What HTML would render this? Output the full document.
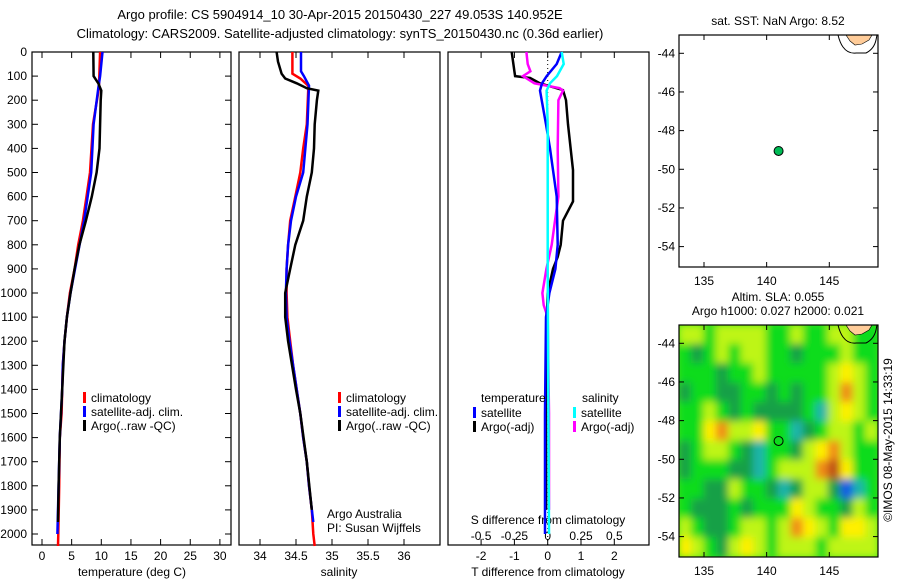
<!DOCTYPE html>
<html><head><meta charset="utf-8"><style>
html,body{margin:0;padding:0;background:#fff;}
svg{display:block;font-family:"Liberation Sans",sans-serif;}
</style></head><body>
<svg id="chart" width="900" height="580" viewBox="0 0 900 580" xmlns="http://www.w3.org/2000/svg">
<defs>
<clipPath id="clipMap"><rect x="679" y="325" width="199" height="232"/></clipPath>
<filter id="blurF" x="-10%" y="-10%" width="120%" height="120%"><feGaussianBlur stdDeviation="4"/></filter>
</defs>
<g id="root"></g>
</svg>
<script>
// ---- data ----
const depthTicks = [0,100,200,300,400,500,600,700,800,900,1000,1100,1200,1300,1400,1500,1600,1700,1800,1900,2000];
const tempTicks = [0,5,10,15,20,25,30];
const salTicks = [34,34.5,35,35.5,36];
const tdiffTicks = [-2,-1,0,1,2];
const sdiffTicks = [-0.5,-0.25,0,0.25,0.5];
const sdiffLabels = ["-0.5","-0.25","0","0.25","0.5"];
const lonTicks = [135,140,145];
const latTicks = [-44,-46,-48,-50,-52,-54];

const climTDepth = [0,150,300,500,600,700,800,900,1000,1100,1200,1300,1400,1500,1600,1800,2000,2050];
const climT = [9.8,9.6,8.6,8.1,7.5,6.9,6.1,5.5,4.7,4.2,3.8,3.5,3.4,3.3,3.0,2.9,2.75,2.7];
const satTDepth = [0,100,150,300,500,700,1000,1100,1200,1300,1400,1500,1600,1800,2000];
const satT = [10.2,9.8,9.5,8.7,8.3,7.1,4.8,4.2,3.8,3.5,3.4,3.2,3.0,2.8,2.6];
const argoTDepth = [0,100,130,160,200,400,500,600,700,800,900,1000,1100,1200,1400,1600,1800,1950];
const argoT = [8.65,8.7,9.5,10.0,9.9,9.7,9.2,8.4,7.4,6.3,5.5,4.8,4.2,3.8,3.4,3.0,2.8,2.7];

const climSDepth = [0,90,110,140,160,300,400,500,600,700,800,900,1000,1100,1200,1300,1400,1500,1600,1700,1800,1900,2000,2050];
const climS = [34.45,34.45,34.56,34.67,34.67,34.65,34.6,34.56,34.49,34.42,34.39,34.37,34.37,34.38,34.42,34.46,34.51,34.56,34.6,34.65,34.68,34.72,34.74,34.76];
const satSDepth = [0,80,100,140,300,500,600,700,800,900,1000,1100,1200,1300,1400,1500,1600,1700,1800,1950];
const satS = [34.57,34.57,34.61,34.68,34.66,34.6,34.5,34.43,34.39,34.37,34.36,34.37,34.41,34.46,34.51,34.56,34.6,34.65,34.68,34.74];
const argoSDepth = [0,40,90,110,130,150,160,200,300,400,500,600,700,800,900,1000,1100,1200,1400,1500,1700,1900];
const argoS = [34.23,34.25,34.3,34.35,34.51,34.65,34.81,34.79,34.76,34.75,34.72,34.65,34.6,34.49,34.42,34.35,34.35,34.39,34.5,34.56,34.65,34.72];

const dTArgoDepth = [0,80,100,108,130,158,200,300,490,620,700,800,850,900,1000,1200,1500,1900];
const dTArgo = [-1.08,-1.0,-0.98,-0.53,-0.23,0.46,0.55,0.61,0.76,0.76,0.46,0.39,0.3,0.16,0.0,-0.05,-0.05,-0.05];
const dSArgoDepth = [0,50,80,100,130,150,160,200,400,600,700,800,900,1000,1050,1100,1500,1900];
const dSArgo = [-0.16,-0.15,-0.13,-0.185,-0.1,0.09,0.115,0.08,0.075,0.08,0.055,0.03,-0.01,-0.04,-0.03,0.0,0.01,0.01];
const dTSatDepth = [0,50,100,130,160,200,300,400,600,800,900,1000,1100,1500,2000];
const dTSat = [0.42,0.27,-0.03,-0.17,-0.23,-0.18,-0.05,0.07,0.27,0.3,0.23,0.05,-0.05,-0.08,-0.08];
const dSSatDepth = [0,50,100,130,160,300,500,900,1500,2000];
const dSSat = [0.105,0.12,0.07,0.017,-0.008,0.0,0.0,0.0,0.005,0.01];

const argoLon = 140.952, argoLat = -49.053;
const slaGrid = [
 [1,1,0,1,1,1,1,0,0,1,0,0,1,1,0,0],
 [0,-1,0,1,0,1,1,0,0,-1,0,0,0,1,0,0],
 [0,0,0,-1,0,0,1,0,0,0,0,0,1,2,1,0],
 [-1,0,0,-1,-1,0,0,-1,0,-1,0,0,1,3,1,0],
 [0,0,1,0,-1,0,-1,-1,-1,-1,0,-2,1,2,1,0],
 [0,0,2,3,1,1,2,0,0,-2,-1,0,1,1,0,1],
 [-1,0,1,1,0,-1,-2,0,0,-1,1,2,3,1,0,0],
 [-1,0,0,0,-1,-1,-2,0,1,1,1,3,4,2,0,0],
 [0,0,-1,-1,1,0,0,-1,-2,-1,1,1,-1,-3,-2,0],
 [0,-1,-1,-1,0,-1,0,0,0,2,1,0,0,-1,1,0],
 [1,0,-1,-1,0,1,1,0,1,3,2,1,0,2,2,1],
 [2,1,0,-1,1,2,1,0,1,1,1,0,1,1,1,1]
];

// ---- helpers ----
const NS="http://www.w3.org/2000/svg";
const root=document.getElementById('root');
function mk(tag,attrs,parent){const e=document.createElementNS(NS,tag);for(const k in attrs)e.setAttribute(k,attrs[k]);(parent||root).appendChild(e);return e;}
function txt(x,y,s,anchor,size,parent){const t=mk('text',{x:x,y:y,'font-size':size||12,'text-anchor':anchor||'start',fill:'#000'},parent);t.textContent=s;return t;}

const PT=52, PB=545;
const yD=d=>PT+(d/100)*24.1;
const xT=v=>42+v*5.93;
const xS=v=>260+(v-34)*72;
const xDT=v=>547.7+v*33.3;
const xDS=v=>547.7+v*133.3;
const mapL=679,mapR=878;
const xLon=v=>704+(v-135)*12.53;
const yLatTop=v=>53.3+(-44-v)*19.33;
const yLatBot=v=>343.3+(-44-v)*19.33;

// titles
let t=txt(340,19,"Argo profile: CS 5904914_10 30-Apr-2015 20150430_227 49.053S 140.952E","middle",13);

t=txt(340,38,"Climatology: CARS2009. Satellite-adjusted climatology: synTS_20150430.nc (0.36d earlier)","middle",13);


function frame(x1,x2,name){const r=mk('rect',{x:x1,y:PT,width:x2-x1,height:PB-PT,fill:'none',stroke:'#000','stroke-width':1.2});}
frame(32,231,'temperature-panel-frame');frame(239,440,'salinity-panel-frame');frame(448,649,'difference-panel-frame');

// depth axis
const dAx=mk('g',{});
depthTicks.forEach(d=>{const y=yD(d);mk('line',{x1:32,x2:38,y1:y,y2:y,stroke:'#000'},dAx);mk('line',{x1:225,x2:231,y1:y,y2:y,stroke:'#000'},dAx);txt(27,y+4,String(d),'end',12,dAx);});

function xAxis(ticks,fx,x1,x2,labels,name,title,tx){
 const g=mk('g',{});
 ticks.forEach((v,i)=>{const x=fx(v);mk('line',{x1:x,x2:x,y1:PB,y2:PB-6,stroke:'#000'},g);mk('line',{x1:x,x2:x,y1:PT,y2:PT+6,stroke:'#000'},g);txt(x,560,labels?labels[i]:String(v),'middle',12,g);});
 txt(tx,576,title,'middle',12,g);
}
xAxis(tempTicks,xT,32,231,null,'temperature-x-axis','temperature (deg C)',132);
xAxis(salTicks,xS,239,440,null,'salinity-x-axis','salinity',339);
xAxis(tdiffTicks,xDT,448,649,null,'t-difference-x-axis','T difference from climatology',548);
const sAx=mk('g',{});
sdiffTicks.forEach((v,i)=>{txt(xDS(v),540,sdiffLabels[i],'middle',12,sAx);});
txt(548,524,"S difference from climatology","middle",12,sAx);

const z=mk('line',{x1:xDT(0),x2:xDT(0),y1:PT,y2:PB,stroke:'#000','stroke-dasharray':'1,3'});


function series(depths,vals,fx,color,name,w){
 const pts=depths.map((d,i)=>fx(vals[i]).toFixed(1)+','+yD(d).toFixed(1)).join(' ');
 const p=mk('polyline',{points:pts,fill:'none',stroke:color,'stroke-width':w||2.5,'stroke-linejoin':'miter'});
 
}
series(climTDepth,climT,xT,'#ff0000','temp-climatology-line');
series(satTDepth,satT,xT,'#0000ff','temp-satellite-line');
series(argoTDepth,argoT,xT,'#000000','temp-argo-line');
series(climSDepth,climS,xS,'#ff0000','sal-climatology-line');
series(satSDepth,satS,xS,'#0000ff','sal-satellite-line');
series(argoSDepth,argoS,xS,'#000000','sal-argo-line');
series(dTArgoDepth,dTArgo,xDT,'#000000','tdiff-argo-line');
series(dSArgoDepth,dSArgo,xDS,'#ff00ff','sdiff-argo-line');
series(dTSatDepth,dTSat,xDT,'#0000ff','tdiff-satellite-line');
series(dSSatDepth,dSSat,xDS,'#00ffff','sdiff-satellite-line');

function legendEntry(x,y,color,label,name){
 const g=mk('g',{});
 mk('rect',{x:x,y:y-9,width:3,height:11,fill:color},g);txt(x+8,y+1,label,'start',12,g);
}
legendEntry(83,401,'#ff0000','climatology','legend-entry-temp-climatology');
legendEntry(83,415,'#0000ff','satellite-adj. clim.','legend-entry-temp-satellite');
legendEntry(83,429,'#000000','Argo(..raw -QC)','legend-entry-temp-argo');
legendEntry(338,401,'#ff0000','climatology','legend-entry-sal-climatology');
legendEntry(338,415,'#0000ff','satellite-adj. clim.','legend-entry-sal-satellite');
legendEntry(338,429,'#000000','Argo(..raw -QC)','legend-entry-sal-argo');
txt(481,402,'temperature','start',12);
txt(582,402,'salinity','start',12);
legendEntry(473,416,'#0000ff','satellite','legend-entry-tdiff-satellite');
legendEntry(473,430,'#000000','Argo(-adj)','legend-entry-tdiff-argo');
legendEntry(573,416,'#00ffff','satellite','legend-entry-sdiff-satellite');
legendEntry(573,430,'#ff00ff','Argo(-adj)','legend-entry-sdiff-argo');
txt(327,518,'Argo Australia','start',12);
txt(327,532,'PI: Susan Wijffels','start',12);

// ---- maps ----
function slaColor(v){
 const stops=[[-3,[20,90,230]],[-2,[30,180,170]],[-1,[20,160,70]],[0,[10,220,30]],[1,[190,245,20]],[2,[255,240,0]],[3,[240,140,20]],[4,[190,80,20]]];
 if(v<=stops[0][0])return 'rgb('+stops[0][1]+')';
 for(let i=1;i<stops.length;i++){if(v<=stops[i][0]){const a=stops[i-1],b=stops[i],f=(v-a[0])/(b[0]-a[0]);return 'rgb('+a[1].map((c,k)=>Math.round(c+(b[1][k]-c)*f)).join(',')+')';}}
 return 'rgb('+stops[stops.length-1][1]+')';
}
function mapFrame(name,title1,title2){
 const g=mk('g',{});
 if(title2){txt(778,301,title1,'middle',12,g);txt(778,315,title2,'middle',12,g);}else txt(778,25,title1,'middle',12,g);
 return g;
}
function mapAxes(top,yLat,g){
 mk('rect',{x:mapL,y:top,width:mapR-mapL,height:232,fill:'none',stroke:'#000','stroke-width':1.2},g);
 lonTicks.forEach(v=>{const x=xLon(v);mk('line',{x1:x,x2:x,y1:top,y2:top+5,stroke:'#000'},g);mk('line',{x1:x,x2:x,y1:top+232,y2:top+227,stroke:'#000'},g);txt(x,top+250,String(v),'middle',12,g);});
 latTicks.forEach(v=>{const y=yLat(v);mk('line',{x1:mapL,x2:mapL+5,y1:y,y2:y,stroke:'#000'},g);mk('line',{x1:mapR,x2:mapR-5,y1:y,y2:y,stroke:'#000'},g);txt(mapL-4,y+4,String(v),'end',12,g);});
}
function land(g,top){
 mk('path',{d:`M838,${top} Q840,${top+8} 843,${top+12} Q848,${top+19} 856,${top+18} L866,${top+18} Q874,${top+14} 876,${top+5} L877,${top}`,fill:'none',stroke:'#000','stroke-width':1},g);
 mk('path',{d:`M846,${top} L872,${top} L869,${top+5} L862,${top+9} L855,${top+10} L850,${top+6} Z`,fill:'#ffcc99',stroke:'#000','stroke-width':0.6},g);
}
const m1=mapFrame('sst-map','sat. SST: NaN Argo: 8.52');
land(m1,35);
mapAxes(35,yLatTop,m1);
const dot=mk('circle',{cx:xLon(argoLon),cy:yLatTop(argoLat),r:4.5,fill:'#00bb55',stroke:'#000','stroke-width':1});


const m2=mapFrame('sla-map','Altim. SLA: 0.055','Argo h1000: 0.027 h2000: 0.021');
const hm=mk('g',{'clip-path':'url(#clipMap)'},m2);
mk('rect',{x:mapL,y:325,width:199,height:232,fill:slaColor(0.3)},hm);
const hb=mk('g',{filter:'url(#blurF)'},hm);
const nr=slaGrid.length,nc=slaGrid[0].length,cw=199/nc,ch=232/nr;
for(let r=0;r<nr;r++)for(let c=0;c<nc;c++){
 const cell=mk('rect',{x:mapL+c*cw-0.5,y:325+r*ch-0.5,width:cw+1,height:ch+1,fill:slaColor(slaGrid[r][c])},hb);
 
 
}
land(m2,325);
mapAxes(325,yLatBot,m2);
const ring=mk('circle',{cx:xLon(argoLon),cy:yLatBot(argoLat),r:4.5,fill:'none',stroke:'#000','stroke-width':1});


const cr=txt(0,0,'©IMOS 08-May-2015 14:33:19','middle',12);
cr.setAttribute('transform','translate(892,440) rotate(-90)');

</script>
</body></html>
